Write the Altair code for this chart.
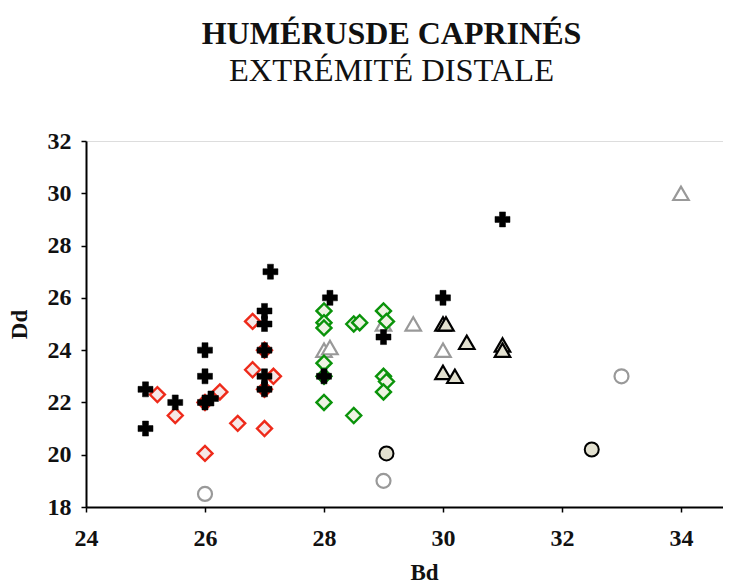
import altair as alt
import pandas as pd

# --- data ---
cross_bd = [25, 25, 25.5, 26, 26, 26, 26.1, 27, 27, 27, 27, 27, 27.1, 28.1, 28, 29, 30, 31]
cross_dd = [22.5, 21, 22, 24, 23, 22, 22.15, 25.5, 25, 24, 23, 22.5, 27, 26, 23, 24.5, 26, 29]

red_bd = [25.2, 25.5, 26, 26, 26.25, 26.55, 26.8, 26.8, 27, 27.15, 27, 27]
red_dd = [22.3, 21.5, 20.05, 22, 22.4, 21.2, 25.1, 23.25, 24, 23, 22.5, 21]

green_bd = [28, 28, 28, 28.5, 28.6, 29, 29.05, 28, 28, 28, 28.5, 29, 29.05, 29]
green_dd = [25.5, 25.05, 24.85, 25, 25.05, 25.5, 25.1, 23.5, 23, 22, 21.5, 23, 22.8, 22.4]

greytri_bd = [29, 29.5, 28, 28.1, 30, 34]
greytri_dd = [25, 25, 24, 24.1, 24, 30]

beigetri_bd = [30, 30.05, 30.4, 31, 31, 30, 30.2]
beigetri_dd = [25, 25, 24.3, 24.2, 24, 23.15, 23]

beigecirc_bd = [29.05, 32.5]
beigecirc_dd = [20.05, 20.2]

greycirc_bd = [26, 29, 33]
greycirc_dd = [18.5, 19, 23]

x_ticks = [24, 26, 28, 30, 32, 34]
y_ticks = [18, 20, 22, 24, 26, 28, 30, 32]

FONT = "Liberation Serif"

xscale = alt.Scale(domain=[24, 34.706], nice=False, zero=False)
yscale = alt.Scale(domain=[18, 32], nice=False, zero=False)

xaxis = alt.Axis(values=x_ticks, title="Bd", grid=False, domainColor="black", domainWidth=2,
                 tickColor="black", tickWidth=1.5, tickSize=5, labelFont=FONT, labelFontSize=24,
                 labelFontWeight="bold", labelColor="#111111", labelPadding=14, labelFlush=False,
                 titleFont=FONT, titleFontSize=23, titleFontWeight="bold", titleColor="#111111",
                 titleX=338, titleY=54)
yaxis = alt.Axis(values=y_ticks, title="Dd", grid=False, domainColor="black", domainWidth=2,
                 tickColor="black", tickWidth=1.5, tickSize=5, labelFont=FONT, labelFontSize=24,
                 labelFontWeight="bold", labelColor="#111111", labelPadding=10, labelFlush=False,
                 titleFont=FONT, titleFontSize=23, titleFontWeight="bold", titleColor="#111111",
                 titleX=-55, titleY=183)


def layer(bd, dd, shape, size, fill, stroke, sw):
    df = pd.DataFrame({"Bd": bd, "Dd": dd})
    return alt.Chart(df).mark_point(shape=shape, size=size, filled=True, fill=fill,
                                    stroke=stroke, strokeWidth=sw, opacity=1).encode(
        x=alt.X("Bd:Q", scale=xscale, axis=xaxis),
        y=alt.Y("Dd:Q", scale=yscale, axis=yaxis),
    )


layers = [
    layer(greytri_bd, greytri_dd, "triangle-up", 240, "white", "#999999", 2.2),
    layer(greycirc_bd, greycirc_dd, "circle", 196, "white", "#999999", 2.2),
    layer(red_bd, red_dd, "diamond", 225, "#f6e8e8", "#ee2a1a", 2.4),
    layer(green_bd, green_dd, "diamond", 225, "#eef2e2", "#0a930a", 2.4),
    layer(cross_bd, cross_dd, "cross", 225, "black", "black", 0.5),
    layer(beigetri_bd, beigetri_dd, "triangle-up", 240, "#e3e1d0", "black", 2.2),
    layer(beigecirc_bd, beigecirc_dd, "circle", 196, "#e3e1d0", "black", 2.0),
]

chart = alt.layer(*layers).properties(
    width=637, height=366,
    autosize=alt.AutoSizeParams(type="none"),
    padding={"left": 78, "top": 133, "right": 0, "bottom": 76},
    title=alt.TitleParams(
        text="HUMÉRUSDE CAPRINÉS", subtitle="EXTRÉMITÉ DISTALE",
        font=FONT, fontSize=32, fontWeight="bold", color="#111111",
        subtitleFont=FONT, subtitleFontSize=32.5, subtitleFontWeight="normal", subtitleColor="#111111",
        subtitlePadding=4, anchor="middle", frame="group", dx=-13, offset=41,
    ),
).configure_view(strokeWidth=0).configure(background="white")

chart.save("out.html", embed_options={"renderer": "svg", "actions": False})
